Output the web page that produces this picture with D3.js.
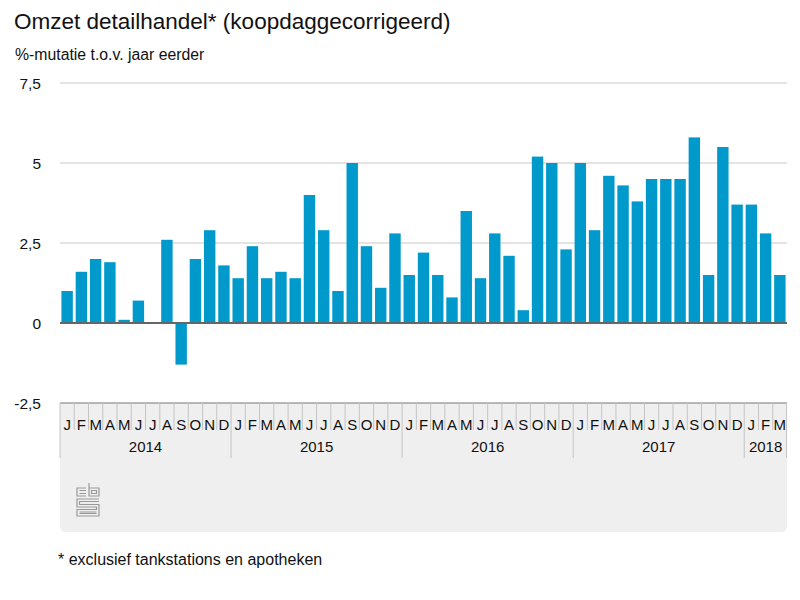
<!DOCTYPE html>
<html>
<head>
<meta charset="utf-8">
<script src="https://cdn.jsdelivr.net/npm/d3@7"></script>
<style>
  body { margin: 0; background: #fff; }
  svg { font-family: "Liberation Sans", Arial, sans-serif; }
</style>
</head>
<body>
<svg id="chart" width="800" height="600"></svg>
<script>
// Data: maanden jan 2014 t/m mrt 2018
const years = [2014, 2015, 2016, 2017, 2018];
const monthLetters = ["J", "F", "M", "A", "M", "J", "J", "A", "S", "O", "N", "D"];
const monthsPerYear = [12, 12, 12, 12, 3];
const values = [
  1.0, 1.6, 2.0, 1.9, 0.1, 0.7, 0.0, 2.6, -1.3, 2.0, 2.9, 1.8,
  1.4, 2.4, 1.4, 1.6, 1.4, 4.0, 2.9, 1.0, 5.0, 2.4, 1.1, 2.8,
  1.5, 2.2, 1.5, 0.8, 3.5, 1.4, 2.8, 2.1, 0.4, 5.2, 5.0, 2.3,
  5.0, 2.9, 4.6, 4.3, 3.8, 4.5, 4.5, 4.5, 5.8, 1.5, 5.5, 3.7,
  3.7, 2.8, 1.5
];
const yTicks = [-2.5, 0, 2.5, 5, 7.5];

// Opbouw van de periodes
const periods = [];
years.forEach((yr, yi) => {
  for (let m = 0; m < monthsPerYear[yi]; m++) {
    periods.push({ key: yr + "-" + m, year: yr, month: m, label: monthLetters[m] });
  }
});
periods.forEach((p, i) => p.value = values[i]);

const svg = d3.select("#chart");
const plotLeft = 60, plotRight = 787, plotTop = 83, plotBottom = 403;

const x = d3.scaleBand()
  .domain(periods.map(d => d.key))
  .range([plotLeft, plotRight])
  .paddingInner(0.2)
  .paddingOuter(0.1);

const y = d3.scaleLinear()
  .domain([-2.5, 7.5])
  .range([plotBottom, plotTop]);

// Titels
svg.append("text")
  .attr("x", 14).attr("y", 29)
  .attr("font-size", 22.5).attr("fill", "#111")
  .text("Omzet detailhandel* (koopdaggecorrigeerd)");

svg.append("text")
  .attr("x", 15).attr("y", 60)
  .attr("font-size", 15.8).attr("fill", "#111")
  .text("%-mutatie t.o.v. jaar eerder");

// Grijs paneel onder de as
svg.append("path")
  .attr("d", () => {
    const r = 6, b = 532;
    return `M${plotLeft},${plotBottom} H${plotRight} V${b - r} Q${plotRight},${b} ${plotRight - r},${b} H${plotLeft + r} Q${plotLeft},${b} ${plotLeft},${b - r} Z`;
  })
  .attr("fill", "#efefef");

// Rasterlijnen
svg.append("g")
  .selectAll("line")
  .data(yTicks.filter(d => d > 0))
  .join("line")
  .attr("x1", plotLeft).attr("x2", plotRight)
  .attr("y1", d => y(d)).attr("y2", d => y(d))
  .attr("stroke", "#c8c8c8").attr("stroke-width", 1);

// Y-labels
svg.append("g")
  .selectAll("text")
  .data(yTicks)
  .join("text")
  .attr("x", 41)
  .attr("y", d => y(d) + 6)
  .attr("text-anchor", "end")
  .attr("font-size", 15.5).attr("fill", "#111")
  .text(d => String(d).replace(".", ","));

// Staven
svg.append("g")
  .selectAll("rect")
  .data(periods)
  .join("rect")
  .attr("x", d => x(d.key))
  .attr("width", x.bandwidth())
  .attr("y", d => y(Math.max(0, d.value)))
  .attr("height", d => Math.abs(y(d.value) - y(0)))
  .attr("fill", "#0099cc");

// Nullijn
svg.append("line")
  .attr("x1", plotLeft).attr("x2", plotRight)
  .attr("y1", y(0)).attr("y2", y(0))
  .attr("stroke", "#666").attr("stroke-width", 2);

// Categorie-as
const step = x.step();
const axis = svg.append("g");

axis.append("line")
  .attr("x1", plotLeft).attr("x2", plotRight)
  .attr("y1", plotBottom).attr("y2", plotBottom)
  .attr("stroke", "#777").attr("stroke-width", 1);

// Scheidingslijnen tussen maanden
axis.selectAll("line.month")
  .data(periods)
  .join("line")
  .attr("class", "month")
  .attr("x1", d => x(d.key) - step * x.paddingInner() / 2)
  .attr("x2", d => x(d.key) - step * x.paddingInner() / 2)
  .attr("y1", plotBottom)
  .attr("y2", d => d.month === 0 ? 458 : 430)
  .attr("stroke", "#c4c4c4").attr("stroke-width", 1);

axis.append("line")
  .attr("x1", plotRight - 0.5).attr("x2", plotRight - 0.5)
  .attr("y1", plotBottom).attr("y2", 458)
  .attr("stroke", "#c4c4c4");

axis.selectAll("text.month")
  .data(periods)
  .join("text")
  .attr("class", "month")
  .attr("x", d => x(d.key) + x.bandwidth() / 2)
  .attr("y", 430)
  .attr("text-anchor", "middle")
  .attr("font-size", 15).attr("fill", "#111")
  .text(d => d.label);

// Jaarlabels
const yearGroups = d3.groups(periods, d => d.year);
axis.selectAll("text.year")
  .data(yearGroups)
  .join("text")
  .attr("class", "year")
  .attr("x", ([, ps]) => {
    const a = x(ps[0].key), b = x(ps[ps.length - 1].key) + x.bandwidth();
    return (a + b) / 2;
  })
  .attr("y", 452)
  .attr("text-anchor", "middle")
  .attr("font-size", 15).attr("fill", "#111")
  .text(([yr]) => yr);

// CBS-logo
const logo = svg.append("g")
  .attr("transform", "translate(76,483)")
  .attr("fill", "none")
  .attr("stroke", "#999")
  .attr("stroke-width", 1.2);
logo.append("path").attr("d", "M10,5 H1 V13 H10");
logo.append("path").attr("d", "M3.5,7.5 H10 M3.5,10.5 H10");
logo.append("path").attr("d", "M13,0 V13 H23 V5 H13");
logo.append("path").attr("d", "M15.5,7.5 H20.5 V10.5 H15.5 Z");
logo.append("path").attr("d", "M23,16 H1 V24 H20.5 V26.5 H1 V33 H23 V21.5 H3.5 V18.5 H23");
logo.append("path").attr("d", "M3.5,29 H20.5 M3.5,30.5 H20.5");

// Voetnoot
svg.append("text")
  .attr("x", 58).attr("y", 565)
  .attr("font-size", 16).attr("fill", "#111")
  .text("* exclusief tankstations en apotheken");
</script>
</body>
</html>
